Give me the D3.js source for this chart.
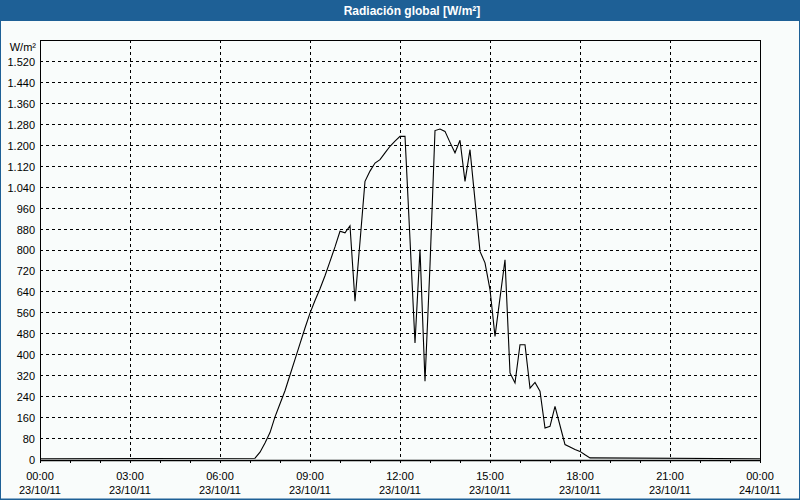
<!DOCTYPE html>
<html><head><meta charset="utf-8">
<script src="https://cdn.jsdelivr.net/npm/d3@7"></script>
<style>
html,body{margin:0;padding:0;background:#f9fcfb;}
svg{display:block;}
text{font-family:"Liberation Sans",Arial,sans-serif;}
</style></head>
<body>
<svg id="c" width="800" height="500"></svg>
<script>
const titleText = "Radiación global [W/m²]";
const unitLabel = "W/m²";
const times = ["00:00","07:10","07:20","07:30","07:40","07:50","08:00","08:10","08:20","08:30","08:40","08:50",
"09:00","09:10","09:20","09:30","09:40","09:50","10:00","10:10","10:20","10:30","10:40","10:50",
"11:00","11:10","11:20","11:30","11:40","11:50","12:00","12:10","12:20","12:30","12:40","12:50",
"13:00","13:10","13:20","13:30","13:40","13:50","14:00","14:10","14:20","14:30","14:40","14:50",
"15:00","15:10","15:20","15:30","15:40","15:50","16:00","16:10","16:20","16:30","16:40","16:50",
"17:00","17:10","17:20","17:30","17:40","17:50","18:00","18:10","18:20","24:00"];
const values = [0,2,25,60,100,160,210,260,320,380,440,500,
557,605,650,700,755,810,870,864,891,602,830,1061,
1100,1131,1144,1170,1195,1215,1233,1233,838,443,800,296,
740,1255,1261,1252,1210,1170,1218,1061,1182,988,793,749,
647,468,615,761,328,290,436,436,270,292,258,117,
124,200,127,54,45,35,28,15,3,0];
const yTicks = d3.range(0, 1521, 80);
const xTickHours = [0,3,6,9,12,15,18,21,24];
const xTickTimes = ["00:00","03:00","06:00","09:00","12:00","15:00","18:00","21:00","00:00"];
const xTickDates = ["23/10/11","23/10/11","23/10/11","23/10/11","23/10/11","23/10/11","23/10/11","23/10/11","24/10/11"];

const svg = d3.select("#c");
const W = 800, H = 500;
const L = 40, R = 760, T = 40, B = 460;

// outer frame + title bar
svg.append("rect").attr("x",0).attr("y",0).attr("width",W).attr("height",H).attr("fill","#f9fcfb");
svg.append("rect").attr("x",0).attr("y",0).attr("width",W).attr("height",21).attr("fill","#1e6096");
svg.append("rect").attr("x",0.5).attr("y",0.5).attr("width",W-1).attr("height",H-1.5)
  .attr("fill","none").attr("stroke","#1e6096").attr("stroke-width",1);
svg.append("line").attr("x1",0).attr("x2",W).attr("y1",499.5).attr("y2",499.5).attr("stroke","#1e6096");
svg.append("text").attr("x",412).attr("y",15).attr("text-anchor","middle")
  .attr("fill","#ffffff").attr("font-weight","bold").attr("font-size","12px").text(titleText);

const toH = t => { const [h,m] = t.split(":").map(Number); return h + m/60; };
const x = d3.scaleLinear().domain([0,24]).range([L,R]);
const y = d3.scaleLinear().domain([0,1600]).range([458.7, 40.4]);

const g = svg.append("g");
// horizontal gridlines
g.selectAll(".hg").data(yTicks.filter(v=>v>0)).enter().append("line")
  .attr("x1",L).attr("x2",R).attr("y1",d=>Math.round(y(d))+0.5).attr("y2",d=>Math.round(y(d))+0.5)
  .attr("stroke","#000").attr("stroke-dasharray","3,3");
// vertical gridlines
g.selectAll(".vg").data(xTickHours.filter(h=>h>0&&h<24)).enter().append("line")
  .attr("y1",T).attr("y2",B).attr("x1",d=>Math.round(x(d))+0.5).attr("x2",d=>Math.round(x(d))+0.5)
  .attr("stroke","#000").attr("stroke-dasharray","3,3");

// y axis labels
const yAxis = d3.axisLeft(y).tickValues(yTicks).tickSize(0).tickPadding(5)
  .tickFormat(d => d3.format(",")(d).replace(/,/g, "."));
const ya = svg.append("g").attr("transform",`translate(${L},0)`).call(yAxis);
ya.select(".domain").remove();
ya.selectAll("text").attr("font-size","11px").attr("fill","#000")
  .attr("font-family","Liberation Sans, Arial, sans-serif").attr("dy","0.4em");
svg.append("text").attr("x",36).attr("y",51).attr("text-anchor","end").attr("font-size","11px").text(unitLabel);

// x axis minor ticks (hourly)
const xAxis = d3.axisBottom(x).tickValues(d3.range(0,25,1)).tickSize(3).tickFormat("");
const xa = svg.append("g").attr("transform",`translate(0,${B})`).call(xAxis);
xa.select(".domain").remove();
xa.selectAll("line").attr("stroke","#000");

// x labels
const xl = svg.append("g");
xl.selectAll(".t1").data(xTickHours).enter().append("text")
  .attr("x",d=>x(d)).attr("y",480).attr("text-anchor","middle").attr("font-size","11px")
  .text((d,i)=>xTickTimes[i]);
xl.selectAll(".t2").data(xTickHours).enter().append("text")
  .attr("x",d=>x(d)).attr("y",494).attr("text-anchor","middle").attr("font-size","11px")
  .text((d,i)=>xTickDates[i]);

// data line
const pts = times.map((t,i)=>[toH(t), values[i]]);
svg.append("path").datum(pts)
  .attr("d", d3.line().x(d=>x(d[0])).y(d=>y(d[1])))
  .attr("fill","none").attr("stroke","#000").attr("stroke-width",1.1);

// plot frame
svg.append("rect").attr("x",L+0.5).attr("y",T+0.5).attr("width",R-L).attr("height",B-T)
  .attr("fill","none").attr("stroke","#000").attr("stroke-width",1);
svg.append("line").attr("x1",L).attr("x2",R+1).attr("y1",B+0.5).attr("y2",B+0.5).attr("stroke","#000").attr("stroke-width",1.5);
</script>
</body></html>
